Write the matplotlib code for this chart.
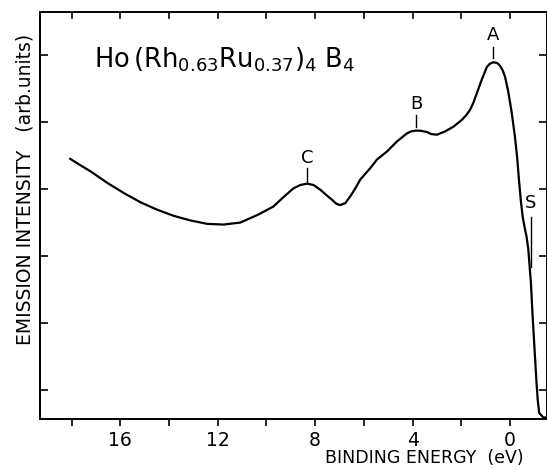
import numpy as np
import matplotlib
matplotlib.use("Agg")
import matplotlib.pyplot as plt

# photoemission spectrum (binding energy in eV, intensity arb. units)
energy = [18.06, 17.62, 17.21, 16.53, 15.86, 15.16, 14.48, 13.81, 13.11, 12.43,
          11.76, 11.07, 10.33, 9.71, 9.30, 8.89, 8.61, 8.33, 8.07, 7.79, 7.54,
          7.31, 7.13, 6.97, 6.76, 6.56, 6.35, 6.15, 5.74, 5.46, 5.05, 4.64, 4.23,
          4.06, 3.89, 3.69, 3.41, 3.24, 3.00, 2.66, 2.32, 1.98, 1.80, 1.64, 1.50,
          1.36, 1.16, 0.95, 0.82, 0.68, 0.53, 0.41, 0.30, 0.20, 0.07, -0.07,
          -0.20, -0.29, -0.37, -0.45, -0.52, -0.60, -0.68, -0.75, -0.86, -0.93,
          -1.01, -1.09, -1.14, -1.20, -1.35, -1.52]
intensity = [3.88, 3.78, 3.69, 3.52, 3.37, 3.23, 3.12, 3.03, 2.96, 2.91,
             2.90, 2.93, 3.05, 3.17, 3.31, 3.44, 3.49, 3.51, 3.49, 3.42, 3.34,
             3.27, 3.21, 3.19, 3.22, 3.32, 3.44, 3.57, 3.74, 3.87, 3.99, 4.14, 4.26,
             4.29, 4.30, 4.30, 4.28, 4.25, 4.24, 4.29, 4.36, 4.46, 4.53, 4.61, 4.72,
             4.86, 5.06, 5.25, 5.30, 5.32, 5.31, 5.27, 5.20, 5.10, 4.88, 4.57,
             4.22, 3.92, 3.56, 3.24, 3.02, 2.86, 2.72, 2.54, 2.03, 1.53,
             1.03, 0.54, 0.28, 0.09, 0.03, 0.015]

# peak markers
peak_labels = ["A", "B", "C", "S"]
peak_energy = [0.70, 3.85, 8.32, -0.86]

xticks_major = [16, 12, 8, 4, 0]
xticks_minor = [18, 14, 10, 6, 2]

plt.rcParams["font.family"] = "DejaVu Sans"

fig = plt.figure(figsize=(5.47, 4.69), dpi=100)
ax = fig.add_axes([40 / 547, 50 / 469, 507 / 547, 407 / 469])

ax.plot(energy, intensity, color="black", lw=1.6, solid_joinstyle="round")

ax.set_xlim(19.3, -1.52)
ax.set_ylim(0, 6.07)

ax.set_xticks(xticks_major)
ax.set_xticklabels([str(v) for v in xticks_major], fontsize=13.5)
ax.set_xticks(xticks_minor, minor=True)
ax.set_yticks(np.arange(0.43, 6.0, 1.0))
ax.set_yticklabels([])

ax.tick_params(axis="x", which="both", direction="out", length=5, width=1.2,
               pad=3.5, top=False)
ax.tick_params(axis="y", which="both", direction="in", length=6, width=1.2,
               left=True, right=True)

# top ticks pointing inward (the bottom ones point outward)
trans = ax.get_xaxis_transform()
for xt in xticks_major + xticks_minor:
    ax.plot([xt, xt], [1.0, 1.0 - 6 / 407], color="black", lw=1.2,
            transform=trans, clip_on=False)

for s in ax.spines.values():
    s.set_linewidth(1.4)

ax.set_xlabel("BINDING ENERGY  (eV)", fontsize=12.5)
ax.xaxis.set_label_coords(0.953, -0.097)
ax.xaxis.label.set_ha("right")
ax.xaxis.label.set_va("center")
ax.set_ylabel("EMISSION INTENSITY   (arb.units)", fontsize=13.5)
ax.yaxis.set_label_coords(-0.03, 0.564)
ax.yaxis.label.set_va("center")

ax.text(17.1, 5.24, r"Ho$\,$(Rh$_{0.63}$Ru$_{0.37}$)$_4$ B$_4$", fontsize=18.5,
        ha="left", va="baseline")

text_y = [5.73, 4.70, 3.90, 3.22]
mark_lo = [5.39, 4.36, 3.54, 2.27]
mark_hi = [5.55, 4.54, 3.75, 3.01]
for lab, e, ty, lo, hi in zip(peak_labels, peak_energy, text_y, mark_lo, mark_hi):
    ax.text(e, ty, lab, fontsize=13, ha="center", va="center")
    ax.plot([e, e], [lo, hi], color="black", lw=1.0)

fig.savefig("out.png", dpi=100)
